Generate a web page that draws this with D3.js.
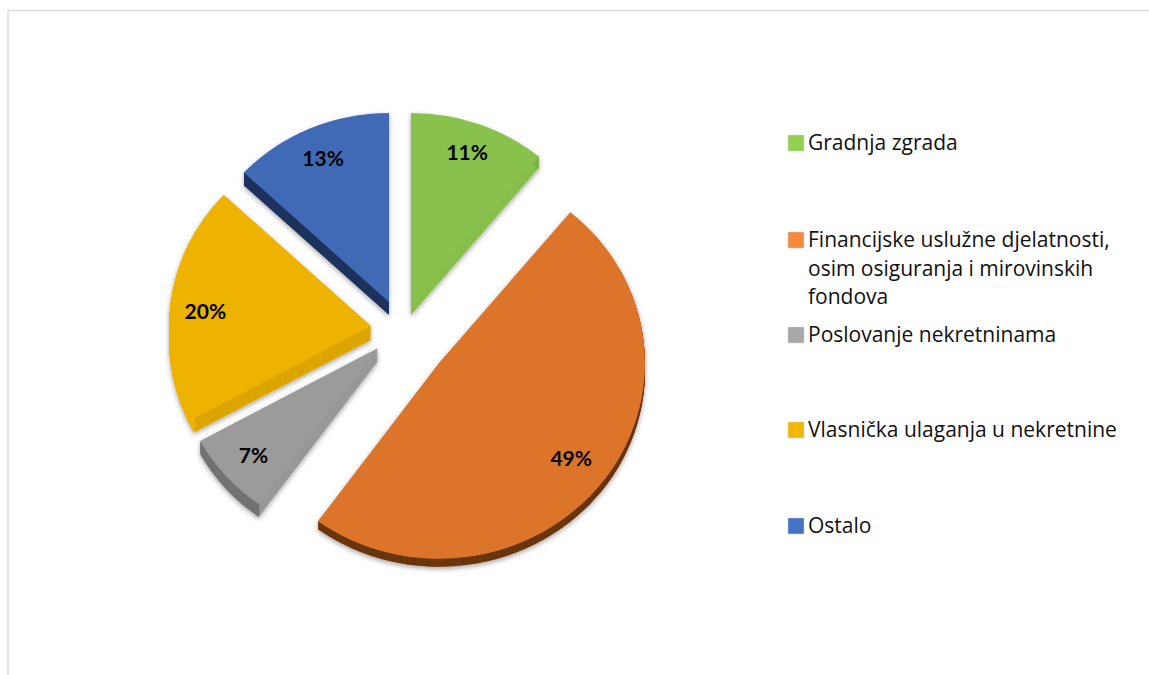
<!DOCTYPE html>
<html>
<head>
<meta charset="utf-8">
<script src="https://cdn.jsdelivr.net/npm/d3@7"></script>
<style>
  html, body { margin: 0; background: #fff; }
  svg { display: block; }
</style>
</head>
<body>
<svg id="chart" width="1149" height="675"></svg>
<script>
// data
const categories = ['Gradnja zgrada', 'Financijske uslužne djelatnosti, osim osiguranja i mirovinskih fondova', 'Poslovanje nekretninama', 'Vlasnička ulaganja u nekretnine', 'Ostalo'];
const shares = [11, 49, 7, 20, 13];
const legendLines = [
  ['Gradnja zgrada'],
  ['Financijske uslužne djelatnosti,', 'osim osiguranja i mirovinskih', 'fondova'],
  ['Poslovanje nekretninama'],
  ['Vlasnička ulaganja u nekretnine'],
  ['Ostalo']
];

// colours
const faceColors = ['#88C14C', '#DC742C', '#9B9B9B', '#EEB200', '#3F6AB5'];
const edgeColors = ['#87BF4B', '#DC742C', '#989898', '#DDA500', '#1E325E'];
const rimColors = ['#7DB044', '#673510', '#727272', '#EEB200', '#1E325E'];
const legendColors = ['#92D050', '#F58A3C', '#A8A8A8', '#F2B800', '#4472C4'];

// exploded layout of the slices
const pieCenter = [402, 336];
const squash = 0.95;
const explodeX = [9, 37, -24, -31, -13];
const explodeY = [-32, 27, 12, -10, -34];
const radii = [201, 206, 203, 202, 199];
const depths = [11, 8, 13, 14, 13];
const labelRadius = 166;
const labelNudgeX = [0, 1, 0, -1, 0];
const labelNudgeY = [-3, -1, 3, 5, 1];

const legendSwatchY = [135, 232, 327, 422, 518];

const svg = d3.select('#chart');

// frame
svg.append('path')
  .attr('d', 'M8,675V10.5H1149')
  .attr('fill', 'none')
  .attr('stroke', '#dcdcdc')
  .attr('stroke-width', 1.5);

const defs = svg.append('defs');
const shadow = defs.append('filter').attr('id', 'shadow')
  .attr('x', '-15%').attr('y', '-15%').attr('width', '130%').attr('height', '130%');
shadow.append('feDropShadow')
  .attr('dx', 0).attr('dy', 2)
  .attr('stdDeviation', 2.6)
  .attr('flood-color', '#000')
  .attr('flood-opacity', 0.35);

const arcs = d3.pie().sort(null).value(d => d)(shares);

const slices = svg.selectAll('g.slice')
  .data(arcs)
  .join('g')
  .attr('class', 'slice')
  .attr('filter', 'url(#shadow)')
  .attr('transform', (d, i) => `translate(${pieCenter[0] + explodeX[i]},${pieCenter[1] + explodeY[i]})`);

slices.each(function (d, i) {
  const g = d3.select(this);
  const face = d3.arc().innerRadius(0).outerRadius(radii[i])(d);
  const rim = d3.arc().innerRadius(radii[i] - 1.5).outerRadius(radii[i])(d);
  // side walls: stack the shape downwards, straight edges first, then the curved rim
  d3.range(depths[i], 0, -1).forEach(k => {
    g.append('path').attr('d', face).attr('fill', edgeColors[i])
      .attr('transform', `translate(0,${k}) scale(1,${squash})`);
  });
  d3.range(depths[i], 0, -1).forEach(k => {
    g.append('path').attr('d', rim).attr('fill', rimColors[i])
      .attr('transform', `translate(0,${k}) scale(1,${squash})`);
  });
  g.append('path').attr('d', face).attr('fill', faceColors[i])
    .attr('transform', `scale(1,${squash})`);
});

// percent labels, drawn after the slices so no shadow goes on them
const labelArc = d3.arc().innerRadius(labelRadius).outerRadius(labelRadius);
svg.selectAll('text.pct')
  .data(arcs)
  .join('text')
  .attr('class', 'pct')
  .attr('x', (d, i) => pieCenter[0] + explodeX[i] + labelNudgeX[i] + labelArc.centroid(d)[0])
  .attr('y', (d, i) => pieCenter[1] + explodeY[i] + labelNudgeY[i] + labelArc.centroid(d)[1] * squash)
  .attr('dy', '0.35em')
  .attr('text-anchor', 'middle')
  .attr('font-family', 'Lato, sans-serif')
  .attr('font-weight', 700)
  .attr('font-size', 21)
  .attr('fill', '#000')
  .text(d => d.data + '%');

// legend
const legend = svg.selectAll('g.legend')
  .data(categories)
  .join('g')
  .attr('class', 'legend')
  .attr('transform', (d, i) => `translate(788,${legendSwatchY[i]})`);

legend.append('rect')
  .attr('width', 16).attr('height', 16)
  .attr('fill', (d, i) => legendColors[i])
  .attr('stroke', '#d4d4d4')
  .attr('stroke-width', 0.5);

legend.each(function (d, i) {
  d3.select(this).selectAll('text')
    .data(legendLines[i])
    .join('text')
    .attr('x', 20)
    .attr('y', (t, j) => 15 + j * 28.5)
    .attr('font-family', '"Open Sans", sans-serif')
    .attr('font-size', 21)
    .attr('fill', '#111')
    .text(t => t);
});
</script>
</body>
</html>
